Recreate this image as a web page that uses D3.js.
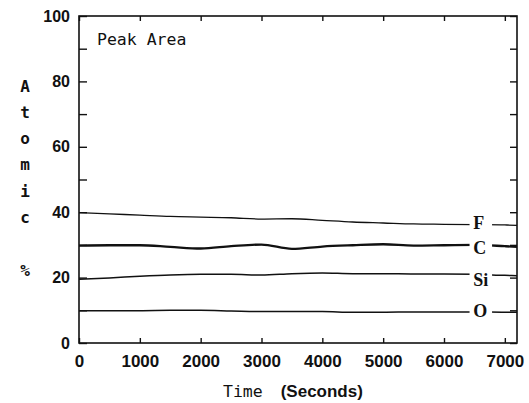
<!DOCTYPE html>
<html>
<head>
<meta charset="utf-8">
<script src="https://cdn.jsdelivr.net/npm/d3@7"></script>
<style>
  body { margin: 0; background: #fff; }
  svg { display: block; }
</style>
</head>
<body>
<div id="chart"></div>
<script>
// time axis samples (seconds)
const times = [0, 500, 1000, 1500, 2000, 2500, 3000, 3500, 4000, 4500, 5000, 5500, 6000, 6500, 7000, 7200]

// atomic % per element
const fluorine = [39.9, 39.5, 39.1, 38.7, 38.5, 38.3, 37.9, 38.0, 37.5, 37.0, 36.7, 36.4, 36.3, 36.2, 36.1, 36.0]
const carbon   = [29.8, 29.9, 29.9, 29.4, 28.9, 29.6, 30.1, 28.8, 29.5, 29.9, 30.2, 29.8, 29.9, 30.0, 29.6, 29.4]
const silicon  = [19.5, 19.9, 20.4, 20.8, 21.0, 21.0, 20.8, 21.2, 21.4, 21.2, 21.2, 21.1, 21.1, 21.0, 20.7, 20.6]
const oxygen   = [9.9, 9.9, 9.9, 10.0, 10.0, 9.8, 9.6, 9.6, 9.6, 9.4, 9.4, 9.5, 9.5, 9.5, 9.4, 9.4]

const seriesNames = ["F", "C", "Si", "O"]
const seriesValues = [fluorine, carbon, silicon, oxygen]

const xTicks = [0, 1000, 2000, 3000, 4000, 5000, 6000, 7000]
const yTicks = [0, 10, 20, 30, 40, 50, 60, 70, 80, 90, 100]
const yLabelLetters = ["A", "t", "o", "m", "i", "c", "", "%"]

// set the dimensions and margins of the graph
const margin = {top: 16, right: 12, bottom: 60, left: 79},
    width = 529 - margin.left - margin.right,
    height = 403 - margin.top - margin.bottom;

const svg = d3.select("#chart")
  .append("svg")
    .attr("width", 529)
    .attr("height", 403)
  .append("g")
    .attr("transform", `translate(${margin.left}, ${margin.top})`);

const x = d3.scaleLinear().domain([0, 7200]).range([0, width])
const y = d3.scaleLinear().domain([0, 100]).range([height, 0])

const ink = "#111"
const monoFont = "'DejaVu Sans Mono', monospace"
const sansFont = "'Liberation Sans', Arial, sans-serif"

//////////
// AXES //
//////////

// left axis: ticks every 10, labels every 20, ticks pointing in
const yLeft = svg.append("g")
  .call(d3.axisLeft(y).tickValues(yTicks).tickSizeInner(-8).tickSizeOuter(0).tickPadding(9)
    .tickFormat(d => d % 20 === 0 ? d : ""))
yLeft.selectAll("text")
  .style("font", `bold 16px ${sansFont}`)
  .attr("fill", ink)

// right axis, ticks only
svg.append("g")
  .attr("transform", `translate(${width}, 0)`)
  .call(d3.axisRight(y).tickValues(yTicks).tickSizeInner(-7).tickSizeOuter(0).tickFormat(""))

// bottom axis
const xBottom = svg.append("g")
  .attr("transform", `translate(0, ${height})`)
  .call(d3.axisBottom(x).tickValues(xTicks).tickSizeInner(-5).tickSizeOuter(0).tickPadding(12)
    .tickFormat(d3.format("d")))
xBottom.selectAll("text")
  .style("font", `bold 17px ${sansFont}`)
  .attr("fill", ink)

// top axis, ticks only
svg.append("g")
  .call(d3.axisTop(x).tickValues(xTicks).tickSizeInner(-5).tickSizeOuter(0).tickFormat(""))

svg.selectAll(".domain").remove()
svg.selectAll(".tick line").attr("stroke", ink).attr("stroke-width", 1.4)

// plot frame
svg.append("rect")
  .attr("width", width)
  .attr("height", height)
  .attr("fill", "none")
  .attr("stroke", ink)
  .attr("stroke-width", 1.6)

//////////
// LINES //
//////////

const line = d3.line()
  .x((d, i) => x(times[i]))
  .y(d => y(d))
  .curve(d3.curveMonotoneX)

const lineWidths = [1.3, 2.3, 1.5, 1.5]
const labelShift = [-2, 3, 6, -1]

seriesValues.forEach((vals, k) => {
  svg.append("path")
    .datum(vals)
    .attr("fill", "none")
    .attr("stroke", ink)
    .attr("stroke-width", lineWidths[k])
    .attr("d", line)
})

// element labels sit in a gap cut out of each line
seriesNames.forEach((name, k) => {
  const yv = y(seriesValues[k][13])
  svg.append("rect")
    .attr("x", x(6420))
    .attr("y", yv - 8)
    .attr("width", x(6790) - x(6420))
    .attr("height", 16)
    .attr("fill", "#fff")
  svg.append("text")
    .attr("x", x(6480))
    .attr("y", yv + labelShift[k])
    .attr("dominant-baseline", "central")
    .style("font", "bold 18px 'Liberation Serif', 'Times New Roman', serif")
    .attr("fill", ink)
    .text(name)
})

//////////
// TEXT //
//////////

svg.append("text")
  .attr("x", 18)
  .attr("y", 29)
  .style("font", `16.5px ${monoFont}`)
  .attr("fill", ink)
  .text("Peak Area")

// vertical stacked y label
svg.selectAll("ylabel")
  .data(yLabelLetters)
  .join("text")
  .attr("x", -54)
  .attr("y", (d, i) => 70 + i * 26.3)
  .attr("text-anchor", "middle")
  .attr("dominant-baseline", "central")
  .style("font", `bold 16px ${monoFont}`)
  .attr("fill", ink)
  .text(d => d)

// x axis title, mixed fonts like the original
const xTitle = svg.append("text")
  .attr("x", 144)
  .attr("y", height + 54)
  .attr("fill", ink)
xTitle.append("tspan")
  .style("font", `16.5px ${monoFont}`)
  .text("Time ")
xTitle.append("tspan")
  .attr("dx", 8)
  .style("font", `bold 17px ${sansFont}`)
  .text("(Seconds)")
</script>
</body>
</html>
